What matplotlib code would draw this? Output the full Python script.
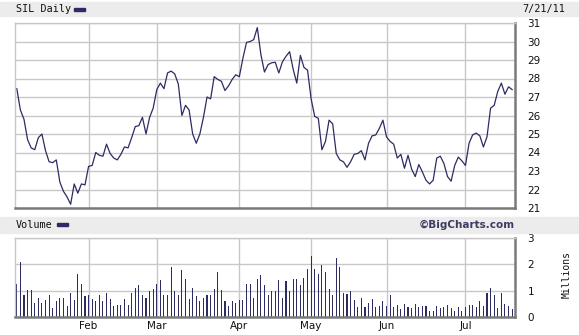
import numpy as np
import matplotlib
matplotlib.use("Agg")
import matplotlib.pyplot as plt
from matplotlib.patches import Rectangle

# SIL daily close, trading days 3 Jan 2011 .. 21 Jul 2011
price = [27.45, 26.3, 25.8, 24.7, 24.25, 24.15, 24.8, 25.0, 24.1, 23.5,
         23.45, 23.6, 22.4, 21.9, 21.6, 21.2, 22.3, 21.8, 22.3, 22.25,
         23.25, 23.3, 24.0, 23.85, 23.8, 24.45, 23.95, 23.7, 23.6, 23.9,
         24.3, 24.25, 24.8, 25.4, 25.45, 25.9, 25.0, 25.9, 26.4, 27.4,
         27.75, 27.45, 28.3, 28.4, 28.25, 27.7, 26.0, 26.55, 26.3, 25.0,
         24.5, 25.0, 25.9, 27.0, 26.9, 28.1, 27.95, 27.85, 27.35, 27.6,
         27.95, 28.2, 28.1, 29.1, 29.95, 30.0, 30.1, 30.75, 29.3, 28.35,
         28.75, 28.85, 28.88, 28.3, 28.9, 29.2, 29.45, 28.5, 27.75, 29.25,
         28.6, 28.45, 26.9, 25.95, 25.85, 24.15, 24.6, 25.75, 25.55, 23.95,
         23.6, 23.5, 23.2, 23.5, 23.9, 23.95, 24.1, 23.6, 24.5, 24.9,
         24.95, 25.3, 25.75, 24.85, 24.6, 24.45, 23.7, 23.9, 23.15, 23.85,
         23.1, 22.7, 23.35, 22.95, 22.5, 22.3, 22.5, 23.7, 23.8, 23.4,
         22.7, 22.45, 23.3, 23.75, 23.55, 23.3, 24.5, 24.95, 25.05, 24.9,
         24.3, 24.85, 26.4, 26.55, 27.3, 27.75, 27.15, 27.55, 27.4]

# volume in millions
volume = [1.24, 2.09, 0.85, 1.04, 1.04, 0.55, 0.74, 0.55, 0.66, 0.85,
          0.36, 0.62, 0.74, 0.74, 0.43, 0.93, 0.66, 1.62, 1.27, 0.78,
          0.85, 0.70, 0.62, 0.82, 0.62, 0.93, 0.70, 0.43, 0.47, 0.47,
          0.70, 0.47, 0.93, 1.12, 1.20, 0.82, 0.74, 0.97, 1.08, 1.27,
          1.39, 0.82, 0.82, 1.89, 1.00, 0.82, 1.77, 1.46, 0.70, 1.12,
          0.78, 0.59, 0.74, 0.85, 0.82, 1.08, 1.69, 1.04, 0.62, 0.43,
          0.59, 0.55, 0.66, 0.66, 1.24, 1.24, 0.74, 1.43, 1.58, 1.20,
          0.82, 1.00, 0.97, 1.39, 0.74, 1.35, 1.00, 1.43, 1.46, 1.20,
          1.50, 1.81, 2.31, 1.81, 1.62, 1.96, 1.69, 1.08, 0.85, 2.23,
          1.89, 0.93, 0.89, 1.00, 0.66, 0.39, 0.74, 0.39, 0.55, 0.70,
          0.39, 0.43, 0.62, 0.43, 0.82, 0.39, 0.47, 0.32, 0.51, 0.39,
          0.36, 0.51, 0.39, 0.43, 0.43, 0.24, 0.24, 0.43, 0.36, 0.39,
          0.47, 0.36, 0.24, 0.39, 0.24, 0.39, 0.47, 0.47, 0.39, 0.62,
          0.43, 0.93, 1.12, 0.85, 0.36, 0.93, 0.51, 0.43, 0.32]

months = ["Feb", "Mar", "Apr", "May", "Jun", "Jul"]
month_start = [20, 39, 62, 82, 103, 125]   # trading-day index of first day
price_ticks = list(range(21, 32))
vol_ticks = [0, 1, 2, 3]

navy = "#2c2c62"
grid = "#c8c8c8"
band = "#ececec"
edge_dark = "#7a7a7a"

W, H = 579, 335
fig = plt.figure(figsize=(W / 100, H / 100), dpi=100)
fig.patch.set_facecolor("white")

def box(x0, y0, x1, y1):
    # pixel box -> figure fraction rect
    return [x0 / W, 1 - y1 / H, (x1 - x0) / W, (y1 - y0) / H]

# header bands
fig.patches.append(Rectangle((0, 1 - 16 / H), 1, 14 / H, transform=fig.transFigure,
                             color=band, zorder=0))
fig.patches.append(Rectangle((0, 1 - 233 / H), 1, 16 / H, transform=fig.transFigure,
                             color=band, zorder=0))
fig.text(16 / W, 1 - 9 / H, "SIL Daily", family="DejaVu Sans Mono", fontsize=7.3,
         va="center", ha="left", color="#111111")
fig.patches.append(Rectangle((74 / W, 1 - 11 / H), 11 / W, 3 / H, transform=fig.transFigure,
                             color=navy))
fig.text(565 / W, 1 - 9 / H, "7/21/11", family="DejaVu Sans Mono", fontsize=7.3,
         va="center", ha="right", color="#111111")
fig.text(16 / W, 1 - 225 / H, "Volume", family="DejaVu Sans Mono", fontsize=7.3,
         va="center", ha="left", color="#111111")
fig.patches.append(Rectangle((57 / W, 1 - 226 / H), 11 / W, 3 / H, transform=fig.transFigure,
                             color=navy))
fig.text(515 / W, 1 - 225 / H, "\u00a9BigCharts.com", fontsize=7.5, fontweight="bold",
         va="center", ha="right", color="#3c3c64")
fig.text(567 / W, 1 - 275 / H, "Millions", family="DejaVu Sans Mono", fontsize=7,
         rotation=90, va="center", ha="center", color="#111111")

x = np.arange(len(price))

def style(ax):
    ax.set_xlim(-0.5, len(price) - 0.2)
    ax.set_xticks(month_start)
    ax.grid(True, color=grid, linewidth=1)
    ax.set_axisbelow(True)
    for s in ["left", "top"]:
        ax.spines[s].set_color(grid)
        ax.spines[s].set_linewidth(1)
    for s in ["bottom", "right"]:
        ax.spines[s].set_color(edge_dark)
        ax.spines[s].set_linewidth(1.8)
    ax.yaxis.tick_right()
    ax.tick_params(axis="both", length=0, labelsize=7.5, colors="#111111")
    ax.tick_params(axis="y", pad=9)

# price panel
ax1 = fig.add_axes(box(15, 23, 515, 208))
ax1.plot(x, price, color=navy, linewidth=0.9)
ax1.set_ylim(21, 31)
ax1.set_yticks(price_ticks)
style(ax1)
ax1.set_xticklabels([])

# volume panel
ax2 = fig.add_axes(box(15, 238, 515, 317))
ax2.bar(x, volume, width=0.3, color=navy, linewidth=0, antialiased=False)
ax2.set_ylim(0, 3)
ax2.set_yticks(vol_ticks)
style(ax2)
ax2.set_xticklabels(months)
ax2.tick_params(axis="x", pad=3)

fig.savefig("out.png", dpi=100)
